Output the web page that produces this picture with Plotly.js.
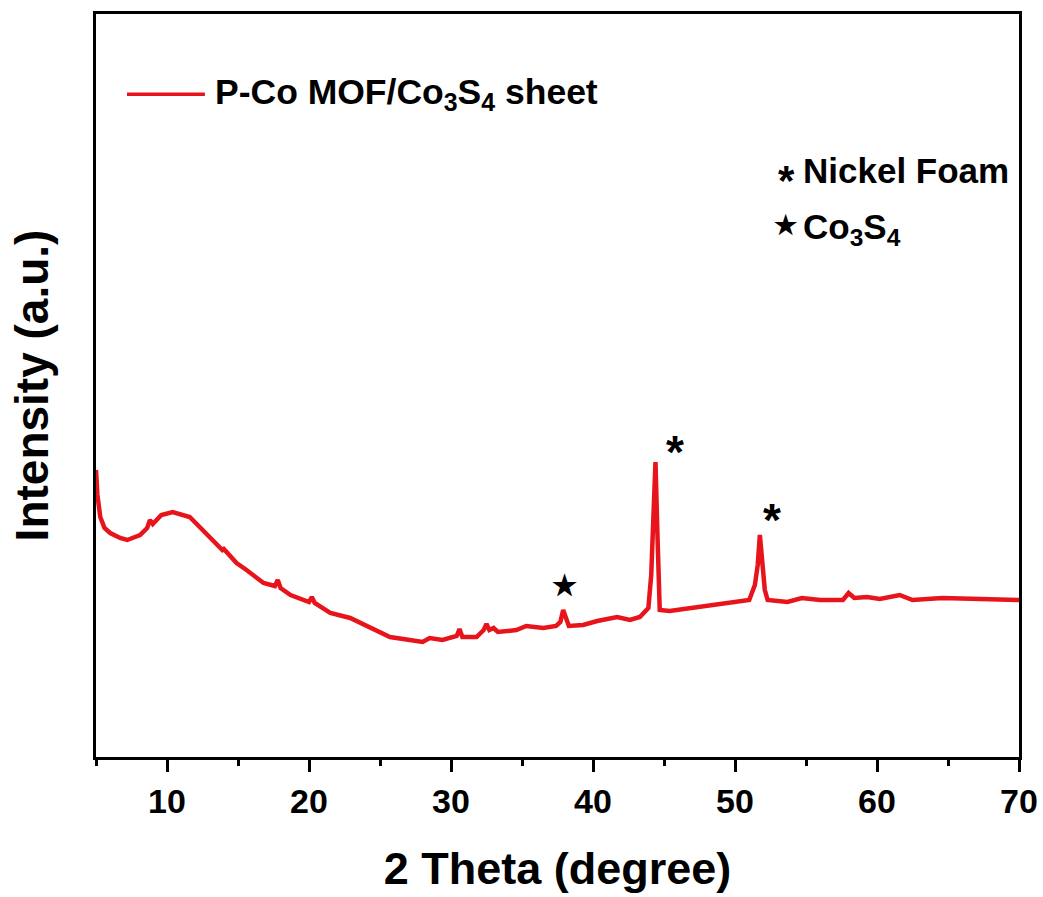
<!DOCTYPE html>
<html>
<head>
<meta charset="utf-8">
<script src="https://cdn.plot.ly/plotly-3.0.1.min.js"></script>
<style>html,body{margin:0;padding:0;background:#fff;}#chart{width:1043px;height:897px;}</style>
</head>
<body>
<div id="chart"></div>
<script>
// 2 Theta (degree)
const twoTheta = [5.0,5.1,5.3,5.6,6.0,6.7,7.2,8.1,8.6,8.8,9.0,9.6,10.4,11.6,12.3,13.2,13.9,14.0,14.9,15.6,15.7,16.8,17.6,17.8,18.0,18.7,20.0,20.2,20.4,21.5,22.9,24.3,25.7,27.1,28.0,28.5,29.4,30.4,30.6,30.8,31.8,32.3,32.5,32.7,33.0,33.3,34.6,35.3,36.5,37.4,37.7,37.9,38.1,38.3,39.3,40.3,41.7,42.6,43.3,43.9,44.1,44.25,44.4,44.55,44.7,45.4,46.5,47.7,48.8,50.1,51.0,51.4,51.6,51.75,51.9,52.1,52.3,53.7,54.7,56.0,57.6,58.0,58.4,59.3,60.2,61.6,62.5,64.6,67.3,70.0];
// Intensity (a.u.)
const intensity = [2870,2620,2400,2290,2240,2190,2170,2220,2290,2370,2330,2420,2450,2400,2300,2170,2070,2080,1940,1870,1860,1740,1710,1770,1690,1620,1550,1600,1540,1440,1390,1290,1200,1170,1150,1190,1170,1210,1280,1200,1200,1270,1330,1270,1290,1250,1270,1310,1290,1310,1350,1470,1370,1310,1320,1360,1400,1370,1400,1490,1820,2370,2950,2170,1470,1460,1480,1500,1520,1550,1570,1720,1920,2220,1970,1670,1570,1550,1590,1570,1570,1640,1590,1600,1580,1620,1570,1590,1580,1570];

const seriesName = 'P-Co MOF/Co<sub>3</sub>S<sub>4</sub> sheet';
const xTickVals = [10,20,30,40,50,60,70];
const xTickText = ['10','20','30','40','50','60','70'];

// peak markers
const peakX = [45.8, 52.6, 38.0];
const peakY = [3150, 2470, 1720];
const peakSym = ['*', '*', '★'];

// phase key
const keySym = ['*', '★'];
const keyText = ['Nickel Foam', 'Co<sub>3</sub>S<sub>4</sub>'];

const FONT = 'Liberation Sans, Arial, sans-serif';
const RED = '#e8141b';

const trace = {
  x: twoTheta, y: intensity, type: 'scatter', mode: 'lines',
  name: seriesName, line: {color: RED, width: 4.5}, showlegend: false
};

const annotations = [];
for (let i = 0; i < peakX.length; i++) {
  annotations.push({
    x: peakX[i], y: peakY[i], xref: 'x', yref: 'y', text: '<b>' + peakSym[i] + '</b>',
    showarrow: false, font: {family: FONT, size: peakSym[i] === '*' ? 46 : 28, color: '#000'},
    yshift: peakSym[i] === '*' ? -10 : 0
  });
}
annotations.push({
  x: 0.1268, y: 0.892, xref: 'paper', yref: 'paper', xanchor: 'left', yanchor: 'middle',
  text: '<b>' + seriesName + '</b>', showarrow: false, font: {family: FONT, size: 35.5, color: '#000'}
});
const keyY = [0.789, 0.716];
for (let i = 0; i < keySym.length; i++) {
  annotations.push({
    x: 0.748, y: keyY[i], xref: 'paper', yref: 'paper', xanchor: 'center', yanchor: 'middle',
    text: '<b>' + keySym[i] + '</b>', showarrow: false,
    font: {family: FONT, size: keySym[i] === '*' ? 42 : 26, color: '#000'},
    yshift: keySym[i] === '*' ? -10 : 0
  });
  annotations.push({
    x: 0.764, y: keyY[i], xref: 'paper', yref: 'paper', xanchor: 'left', yanchor: 'middle',
    text: '<b>' + keyText[i] + '</b>', showarrow: false, font: {family: FONT, size: 35, color: '#000'},
    yshift: i === 1 ? -4 : 0
  });
}

const layout = {
  width: 1043, height: 897,
  margin: {l: 96, r: 24, t: 14, b: 140},
  paper_bgcolor: '#fff', plot_bgcolor: '#fff',
  font: {family: FONT, color: '#000'},
  xaxis: {
    range: [5, 70], tickvals: xTickVals, ticktext: xTickText,
    ticks: 'outside', ticklen: 12, tickwidth: 3, tickcolor: '#000',
    minor: {dtick: 5, tick0: 5, ticks: 'outside', ticklen: 6, tickwidth: 3, tickcolor: '#000'},
    showline: true, linewidth: 3, linecolor: '#000', mirror: true,
    showgrid: false, zeroline: false,
    tickfont: {family: FONT, size: 34, color: '#000', weight: 'bold'},
    title: {text: '<b>2 Theta (degree)</b>', font: {family: FONT, size: 45, color: '#000'}, standoff: 34}
  },
  yaxis: {
    range: [0, 7430], showticklabels: false, ticks: '',
    showline: true, linewidth: 3, linecolor: '#000', mirror: true,
    showgrid: false, zeroline: false,
    title: {text: '<b>Intensity (a.u.)</b>', font: {family: FONT, size: 46, color: '#000'}, standoff: 30}
  },
  shapes: [{
    type: 'line', xref: 'paper', yref: 'paper', x0: 0.0336, x1: 0.118, y0: 0.892, y1: 0.892,
    line: {color: RED, width: 3.5}
  }],
  annotations: annotations
};

Plotly.newPlot('chart', [trace], layout, {displayModeBar: false, staticPlot: true});
</script>
</body>
</html>
